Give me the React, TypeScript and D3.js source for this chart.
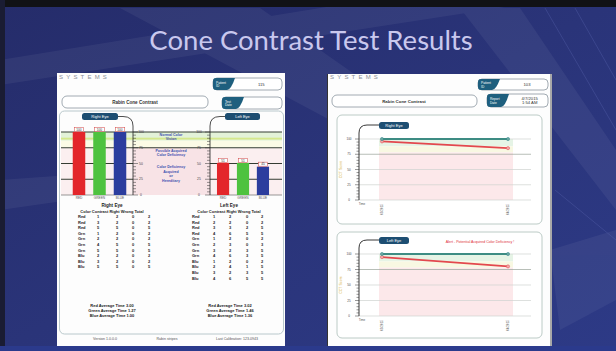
import React from 'react';
import * as d3 from 'd3';

// bar report (left picture)
const categories = ['RED', 'GREEN', 'BLUE'];
const rightEyeScores = [100, 100, 100];
const leftEyeScores = [51, 51, 45];
const barTicks = [0, 25, 50, 75, 100];
const barColors = ['#e3262b', '#4ec23f', '#2c3d9e'];

const tableHeader = ['Color', 'Contrast', 'Right', 'Wrong', 'Total'];
const rightEyeRows = [
  ['Red', 1, 2, 0, 2], ['Red', 3, 2, 0, 2], ['Red', 5, 5, 0, 5],
  ['Grn', 1, 2, 0, 2], ['Grn', 2, 2, 0, 2], ['Grn', 4, 5, 0, 5], ['Grn', 5, 5, 0, 5],
  ['Blu', 2, 2, 0, 2], ['Blu', 3, 2, 0, 2], ['Blu', 5, 5, 0, 5],
];
const leftEyeRows = [
  ['Red', 1, 2, 0, 2], ['Red', 2, 2, 0, 2], ['Red', 3, 3, 2, 5], ['Red', 4, 6, 5, 5],
  ['Grn', 1, 2, 0, 2], ['Grn', 2, 3, 0, 3], ['Grn', 3, 2, 3, 5], ['Grn', 4, 6, 3, 5],
  ['Blu', 1, 2, 0, 2], ['Blu', 2, 4, 1, 5], ['Blu', 3, 2, 3, 5], ['Blu', 4, 6, 5, 5],
];
const rightAverages = ['Red Average Time 3.00', 'Green Average Time 1.27', 'Blue Average Time 1.00'];
const leftAverages = ['Red Average Time 3.02', 'Green Average Time 1.46', 'Blue Average Time 1.36'];

// trend report (right picture)
const sessions = ['03/2015', '04/2015'];
const rightTrend = { red: [96, 85], green: [100, 100], blue: [100, 100] };
const leftTrend = { red: [95, 80], green: [100, 100], blue: [100, 100] };

const sans = 'Liberation Sans, Arial, sans-serif';

const Tab = ({ x, y, w, label }: any) => (
  <g>
    <rect x={x} y={y} width={w} height={7} rx={2.5} fill="#1d4e72" />
    <text x={x + w / 2} y={y + 5} fontSize={4} fill="#fff" textAnchor="middle">{label}</text>
  </g>
);

const InfoBox = ({ x, y, w, h, tab, value }: any) => (
  <g>
    <rect x={x} y={y} width={w} height={h} rx={4} fill="#fff" stroke="#8a96a0" strokeWidth={0.8} />
    <path d={`M${x},${y + 3} Q${x},${y} ${x + 3},${y} H${x + 22} Q${x + 18},${y + h} ${x + 14},${y + h} H${x + 3} Q${x},${y + h} ${x},${y + h - 3} Z`} fill="#1e5f7e" />
    <text x={x + 3} y={y + h / 2 - 0.5} fontSize={3.2} fill="#fff">{tab[0]}</text>
    <text x={x + 3} y={y + h / 2 + 3} fontSize={3.2} fill="#fff">{tab[1]}</text>
    {value.map((v: string, i: number) => (
      <text key={i} x={x + w * 0.7} y={y + h / 2 + 1.5 + (i - (value.length - 1) / 2) * 4.5} fontSize={4.2} fill="#333" textAnchor="middle">{v}</text>
    ))}
  </g>
);

const BarReport = () => {
  const y = d3.scaleLinear().domain([0, 100]).range([195, 132]);
  const xR = d3.scaleBand().domain(categories).range([63, 136]).paddingInner(0.39).paddingOuter(0.475);
  const xL = d3.scaleBand().domain(categories).range([207.5, 278.5]).paddingInner(0.39).paddingOuter(0.475);
  const minor = d3.range(0, 101, 5);
  const left = 61, right = 282, axR = 133, axL = 210;

  const bars = (x: any, scores: number[]) => categories.map((c, i) => (
    <g key={c}>
      <rect x={x(c)} y={y(scores[i])} width={x.bandwidth()} height={y(0) - y(scores[i])} fill={barColors[i]} />
      <rect x={x(c)! + 1.5} y={y(scores[i]) - 4.5} width={x.bandwidth() - 3} height={4} fill="#fff" stroke="#d04040" strokeWidth={0.5} />
      <text x={x(c)! + x.bandwidth() / 2} y={y(scores[i]) - 1.3} fontSize={3.2} textAnchor="middle" fill="#333">{scores[i]}</text>
      <text x={x(c)! + x.bandwidth() / 2} y={198.5} fontSize={3.2} textAnchor="middle" fill="#555">{c}</text>
    </g>
  ));

  const table = (rows: any[], cols: number[], x0: number, title: string, cx: number) => (
    <g fontSize={4} fill="#222">
      <text x={cx} y={207} textAnchor="middle" fontWeight="bold" fontSize={4.6}>{title}</text>
      <text x={cx} y={212.5} textAnchor="middle" fontWeight="bold">{tableHeader.join(' ')}</text>
      {rows.map((r, i) => r.map((v: any, j: number) => (
        <text key={i + '-' + j} x={j === 0 ? x0 : cols[j - 1]} y={218 + i * 5.6} textAnchor={j === 0 ? 'start' : 'middle'} fontWeight="bold">{v}</text>
      )))}
    </g>
  );

  return (
    <g fontFamily={sans}>
      <clipPath id="clipL"><rect x={57} y={73} width={228} height={273} /></clipPath>
      <g clipPath="url(#clipL)">
        <rect x={57} y={73} width={228} height={273} fill="#fdfdfd" />
        <text x={59} y={78.5} fontSize={6} fill="#8a8f99" letterSpacing={3.2}>SYSTEMS</text>
        <rect x={59.5} y={111} width={224} height={223} rx={5} fill="none" stroke="#b9c8cc" strokeWidth={1} />
        <rect x={62} y={96} width={146} height={12} rx={5} fill="#fff" stroke="#8a96a0" strokeWidth={0.8} />
        <text x={135} y={103.5} fontSize={4.6} textAnchor="middle" fontWeight="bold" fill="#333">Rabin Cone Contrast</text>
        <InfoBox x={213} y={78} w={69} h={12} tab={['Patient', 'ID']} value={['115']} />
        <InfoBox x={222} y={97} w={60} h={12} tab={['Test', 'Date']} value={[]} />

        {/* zones */}
        <rect x={left} y={y(100)} width={right - left} height={y(86) - y(100)} fill="#e3f2d8" />
        <rect x={left} y={y(91)} width={right - left} height={y(88) - y(91)} fill="#d5e88c" />
        <rect x={left} y={y(86)} width={right - left} height={y(75) - y(86)} fill="#fbfbe6" />
        <rect x={left} y={y(75)} width={right - left} height={y(0) - y(75)} fill="#fbeff0" />
        <rect x={axR} y={y(75)} width={axL - axR} height={y(0) - y(75)} fill="#f8e3e6" />
        {[100, 75].map(t => <line key={t} x1={left} x2={right} y1={y(t)} y2={y(t)} stroke="#343c32" strokeWidth={1} />)}
        {[50, 25].map(t => (
          <g key={t}>
            <line x1={left} x2={axR} y1={y(t)} y2={y(t)} stroke="#343c32" strokeWidth={1} />
            <line x1={axL} x2={right} y1={y(t)} y2={y(t)} stroke="#343c32" strokeWidth={1} />
          </g>
        ))}
        <line x1={left} x2={axR} y1={y(0)} y2={y(0)} stroke="#555" strokeWidth={0.6} />
        <line x1={axL} x2={right} y1={y(0)} y2={y(0)} stroke="#555" strokeWidth={0.6} />

        {bars(xR, rightEyeScores)}
        {bars(xL, leftEyeScores)}

        {/* axes */}
        <path d={`M${axR},${y(0)} V126 Q${axR},116.5 123,116.5 H117`} fill="none" stroke="#222" strokeWidth={0.8} />
        <path d={`M${axL},${y(0)} V126 Q${axL},116.5 220,116.5 H226`} fill="none" stroke="#222" strokeWidth={0.8} />
        {minor.map(t => (
          <g key={t} stroke="#333" strokeWidth={0.5}>
            <line x1={axR} x2={axR + (t % 25 === 0 ? 5 : 3)} y1={y(t)} y2={y(t)} />
            <line x1={axL} x2={axL - (t % 25 === 0 ? 5 : 3)} y1={y(t)} y2={y(t)} />
          </g>
        ))}
        {barTicks.map(t => (
          <g key={t} fontSize={3.4} fill="#444">
            <text x={141} y={y(t) + 1.2} textAnchor="middle">{t}</text>
            <text x={199} y={y(t) + 1.2} textAnchor="middle">{t}</text>
          </g>
        ))}
        <Tab x={82} y={113} w={36} label="Right Eye" />
        <Tab x={225} y={113} w={35} label="Left Eye" />

        <g fontSize={3.6} fill="#4050b0" textAnchor="middle" fontWeight="bold">
          <text x={171} y={135.5}>Normal Color</text>
          <text x={171} y={140}>Vision</text>
          <text x={171} y={151.5}>Possible Acquired</text>
          <text x={171} y={156}>Color Deficiency</text>
          <text x={171} y={168}>Color Deficiency</text>
          <text x={171} y={172.5}>Acquired</text>
          <text x={171} y={177}>or</text>
          <text x={171} y={181.5}>Hereditary</text>
        </g>

        {table(rightEyeRows, [98, 117, 133, 149], 78, 'Right Eye', 112)}
        {table(leftEyeRows, [214, 230, 247, 262], 192, 'Left Eye', 229)}

        <g fontSize={4} fill="#222" textAnchor="middle" fontWeight="bold">
          {rightAverages.map((t, i) => <text key={t} x={112} y={307 + i * 5}>{t}</text>)}
          {leftAverages.map((t, i) => <text key={t} x={230} y={307 + i * 5}>{t}</text>)}
        </g>
        <g fontSize={3.6} fill="#555" textAnchor="middle">
          <text x={105} y={340}>Version 1.0.0.0</text>
          <text x={167} y={340}>Rabin stripes</text>
          <text x={237} y={340}>Last Calibration: 123-0943</text>
        </g>
      </g>
    </g>
  );
};

const TrendPanel = ({ top, bottom, y0, y100, data, label, alert }: any) => {
  const y = d3.scaleLinear().domain([0, 100]).range([y0, y100]);
  const x = d3.scalePoint().domain(sessions).range([382, 508]);
  const line = d3.line<number>().x((_, i) => x(sessions[i])!).y(d => y(d));
  const ax = 359;
  return (
    <g>
      <rect x={337} y={top} width={205} height={bottom - top} rx={5} fill="#fff" stroke="#bccbc6" strokeWidth={1} />
      <rect x={379} y={y(100)} width={134} height={y(88) - y(100)} fill="#e6f4e6" />
      <rect x={379} y={y(88)} width={134} height={y(78) - y(88)} fill="#f8f8e2" />
      <rect x={379} y={y(78)} width={134} height={y(0) - y(78)} fill="#fce8ea" />
      {barTicks.map(t => (
        <line key={t} x1={ax} x2={531} y1={y(t)} y2={y(t)} stroke={t === 75 ? '#9aa39a' : '#cfd3d0'} strokeWidth={0.7} />
      ))}
      <path d={`M${ax},${y(0)} V${y100 - 6} Q${ax},${y100 - 14} ${ax + 8},${y100 - 14} H380`} fill="none" stroke="#222" strokeWidth={0.9} />
      {d3.range(0, 101, 5).map(t => (
        <line key={t} x1={ax} x2={ax - (t % 25 === 0 ? 4 : 2.5)} y1={y(t)} y2={y(t)} stroke="#333" strokeWidth={0.5} />
      ))}
      {barTicks.map(t => (
        <text key={t} x={349} y={y(t) + 1} fontSize={3} textAnchor="middle" fill="#444">{t}</text>
      ))}
      <text transform={`translate(342,${(y0 + y100) / 2}) rotate(-90)`} fontSize={3.6} fill="#d6b23c" textAnchor="middle">CCT Score</text>
      <text x={362} y={y0 + 5} fontSize={3} fill="#555" textAnchor="middle">Time</text>
      {sessions.map(s => (
        <text key={s} transform={`translate(${x(s)! + 1},${y0 + 4}) rotate(-90)`} fontSize={3} fill="#555" textAnchor="end">{s}</text>
      ))}
      <Tab x={379} y={y100 - 17} w={30} label={label} />
      {alert && <text x={480} y={y100 - 11.5} fontSize={3.6} fill="#e0303a" textAnchor="middle">{alert}</text>}
      <path d={line(data.red)!} fill="none" stroke="#e3484e" strokeWidth={1.8} />
      <path d={line(data.green)!} fill="none" stroke="#4aa45a" strokeWidth={1.4} />
      <path d={line(data.blue)!} fill="none" stroke="#2d7e86" strokeWidth={1.4} />
      {['red', 'blue'].map(k => data[k].map((v: number, i: number) => (
        <circle key={k + i} cx={x(sessions[i])} cy={y(v)} r={1.6} fill={k === 'red' ? '#f1a8a8' : '#6aa8a0'} stroke={k === 'red' ? '#e3484e' : '#2d7e86'} strokeWidth={0.5} />
      )))}
    </g>
  );
};

const TrendReport = () => (
  <g fontFamily={sans}>
    <clipPath id="clipR"><rect x={327} y={74} width={225} height={272} /></clipPath>
    <g clipPath="url(#clipR)">
      <rect x={327} y={74} width={225} height={272} fill="#fdfdfd" />
      <line x1={327.5} x2={327.5} y1={74} y2={346} stroke="#333" strokeWidth={1} />
      <line x1={551} x2={551} y1={74} y2={346} stroke="#555" strokeWidth={1} />
      <text x={330} y={78.5} fontSize={6} fill="#8a8f99" letterSpacing={3.2}>SYSTEMS</text>
      <rect x={332} y={95} width={145} height={12} rx={5} fill="#fff" stroke="#8a96a0" strokeWidth={0.8} />
      <text x={404} y={102.5} fontSize={4.4} textAnchor="middle" fontWeight="bold" fill="#333">Rabin Cone Contrast</text>
      <InfoBox x={478} y={79} w={70} h={11} tab={['Patient', 'ID']} value={['103']} />
      <InfoBox x={487} y={94} w={61} h={13} tab={['Report', 'Date']} value={['4/7/2015', '1:54 AM']} />
      <TrendPanel top={115} bottom={224} y0={200} y100={139} data={rightTrend} label="Right Eye" />
      <TrendPanel top={232} bottom={338} y0={316} y100={254} data={leftTrend} label="Left Eye" alert="Alert - Potential Acquired Color Deficiency !" />
    </g>
  </g>
);

const Background = () => (
  <g>
    <defs>
      <linearGradient id="bg" x1="0" y1="0" x2="1" y2="1">
        <stop offset="0" stopColor="#252c6a" />
        <stop offset="0.5" stopColor="#2a3479" />
        <stop offset="1" stopColor="#2d3a86" />
      </linearGradient>
    </defs>
    <rect x={0} y={0} width={616} height={351} fill="url(#bg)" />
    <g fill="#ffffff" opacity={0.05}>
      <polygon points="0,60 616,-40 616,-10 0,85" />
      <polygon points="120,8 260,8 420,120 330,120" />
      <polygon points="460,8 520,8 616,150 616,210" />
      <polygon points="0,180 70,175 70,200 0,210" />
      <polygon points="550,250 616,230 616,300 560,330" />
    </g>
    <g stroke="#5a66b0" strokeWidth={0.8} opacity={0.45}>
      <line x1={545} y1={8} x2={616} y2={130} />
      <line x1={575} y1={8} x2={616} y2={80} />
      <line x1={555} y1={190} x2={616} y2={240} />
    </g>
    <rect x={0} y={0} width={616} height={7} fill="#111216" />
    <rect x={0} y={0} width={5} height={351} fill="#1a1c33" />
    <rect x={0} y={346} width={616} height={5} fill="#2b3a8c" />
    <text x={311} y={50} textAnchor="middle" fontFamily="Lato, Open Sans, sans-serif" fontSize={27.5} fill="#c9c8ee">Cone Contrast Test Results</text>
  </g>
);

export default function App() {
  return (
    <svg width={616} height={351} style={{ position: 'absolute', left: 0, top: 0 }}>
      <Background />
      <BarReport />
      <TrendReport />
    </svg>
  );
}
